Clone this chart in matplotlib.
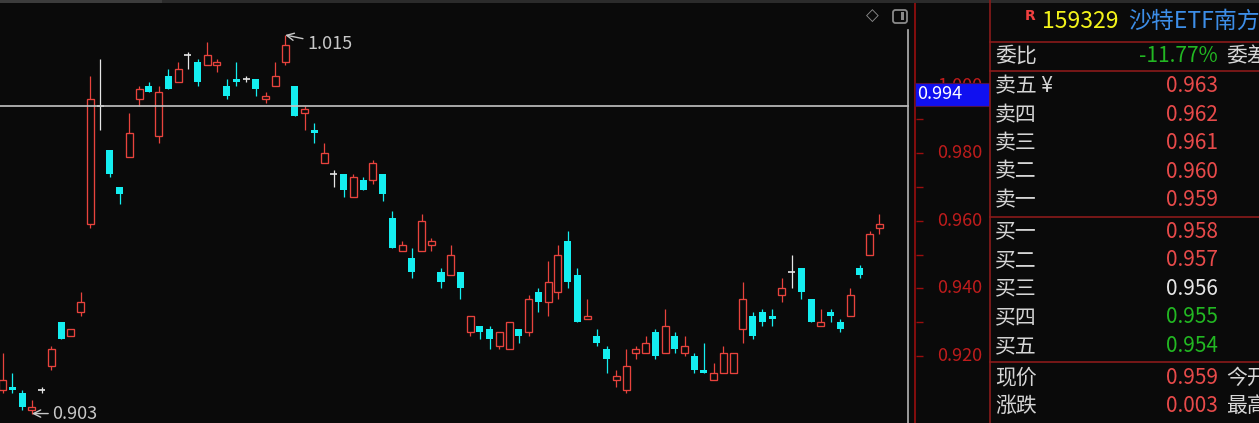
import matplotlib
matplotlib.use('Agg')
import matplotlib.pyplot as plt
from matplotlib.patches import Rectangle, FancyBboxPatch
import numpy as np

plt.rcParams['font.family'] = ['Noto Sans CJK SC', 'DejaVu Sans']

# K线数据 (开, 高, 低, 收)
opens = [0.910, 0.911, 0.909, 0.904, 0.910, 0.917, 0.930, 0.926, 0.933, 0.959,
         0.994, 0.981, 0.970, 0.979, 0.996, 1.000, 0.985, 1.003, 1.001, 1.009,
         1.007, 1.006, 1.006, 1.000, 1.002, 1.002, 1.002, 0.996, 1.000, 1.007,
         1.000, 0.992, 0.987, 0.977, 0.974, 0.974, 0.967, 0.972, 0.972, 0.974,
         0.961, 0.951, 0.949, 0.951, 0.953, 0.945, 0.944, 0.945, 0.927, 0.929,
         0.928, 0.923, 0.922, 0.928, 0.927, 0.939, 0.936, 0.939, 0.954, 0.944,
         0.931, 0.926, 0.922, 0.913, 0.910, 0.921, 0.921, 0.927, 0.921, 0.926,
         0.921, 0.920, 0.916, 0.913, 0.915, 0.915, 0.928, 0.932, 0.933, 0.932,
         0.938, 0.945, 0.946, 0.937, 0.929, 0.933, 0.930, 0.932, 0.946, 0.950,
         0.958]
highs = [0.921, 0.915, 0.910, 0.907, 0.911, 0.923, 0.930, 0.928, 0.939, 1.003,
         1.008, 0.981, 0.970, 0.992, 1.000, 1.001, 1.000, 1.005, 1.007, 1.010,
         1.008, 1.013, 1.008, 1.002, 1.007, 1.003, 1.002, 0.998, 1.007, 1.015,
         1.000, 0.994, 0.989, 0.983, 0.975, 0.974, 0.974, 0.973, 0.978, 0.974,
         0.963, 0.954, 0.952, 0.962, 0.955, 0.946, 0.953, 0.945, 0.932, 0.929,
         0.929, 0.927, 0.930, 0.928, 0.938, 0.940, 0.948, 0.953, 0.957, 0.946,
         0.937, 0.928, 0.923, 0.916, 0.922, 0.923, 0.926, 0.928, 0.934, 0.927,
         0.926, 0.921, 0.924, 0.918, 0.923, 0.921, 0.942, 0.933, 0.934, 0.934,
         0.943, 0.950, 0.946, 0.937, 0.934, 0.934, 0.931, 0.940, 0.947, 0.957,
         0.962]
lows = [0.909, 0.909, 0.904, 0.903, 0.909, 0.916, 0.925, 0.926, 0.932, 0.958,
        0.987, 0.973, 0.965, 0.979, 0.994, 0.998, 0.983, 0.999, 1.001, 1.005,
        1.000, 1.006, 1.004, 0.996, 1.000, 1.001, 0.997, 0.995, 1.000, 1.006,
        0.991, 0.987, 0.983, 0.977, 0.970, 0.967, 0.967, 0.969, 0.971, 0.966,
        0.952, 0.951, 0.943, 0.951, 0.951, 0.940, 0.944, 0.937, 0.926, 0.925,
        0.922, 0.922, 0.922, 0.924, 0.926, 0.933, 0.932, 0.937, 0.940, 0.930,
        0.931, 0.923, 0.915, 0.911, 0.909, 0.919, 0.921, 0.919, 0.921, 0.921,
        0.920, 0.915, 0.915, 0.913, 0.915, 0.915, 0.924, 0.925, 0.929, 0.929,
        0.936, 0.940, 0.937, 0.930, 0.929, 0.930, 0.927, 0.932, 0.943, 0.950,
        0.956]
closes = [0.913, 0.910, 0.905, 0.905, 0.910, 0.922, 0.925, 0.928, 0.936, 0.996,
          0.994, 0.974, 0.968, 0.986, 0.999, 0.998, 0.998, 0.999, 1.005, 1.009,
          1.001, 1.009, 1.007, 0.997, 1.001, 1.002, 0.999, 0.997, 1.003, 1.012,
          0.991, 0.993, 0.986, 0.980, 0.974, 0.969, 0.973, 0.969, 0.977, 0.968,
          0.952, 0.953, 0.945, 0.960, 0.954, 0.942, 0.950, 0.940, 0.932, 0.927,
          0.925, 0.927, 0.930, 0.926, 0.937, 0.936, 0.942, 0.950, 0.942, 0.930,
          0.932, 0.924, 0.919, 0.914, 0.917, 0.922, 0.924, 0.920, 0.929, 0.922,
          0.923, 0.916, 0.915, 0.915, 0.921, 0.921, 0.937, 0.926, 0.930, 0.931,
          0.940, 0.945, 0.939, 0.930, 0.930, 0.932, 0.928, 0.938, 0.944, 0.956,
          0.959]

cross_price = 0.994
tick_prices = [0.920, 0.930, 0.940, 0.950, 0.960, 0.970, 0.980, 0.990, 1.000]
label_prices = [0.920, 0.940, 0.960, 0.980, 1.000]

# 盘口
code = '159329'
name = '沙特ETF南方'
wb_ratio = '-11.77%'
sell_labels = ['卖五 ¥', '卖四', '卖三', '卖二', '卖一']
sell_prices = [0.963, 0.962, 0.961, 0.960, 0.959]
buy_labels = ['买一', '买二', '买三', '买四', '买五']
buy_prices = [0.958, 0.957, 0.956, 0.955, 0.954]
last_price = 0.959
change = 0.003

BG = '#0a0a0a'
RED = '#e8433d'
CYAN = '#14eef0'
WHITE = '#e6e6e6'
GREY_TXT = '#c8c8c8'
AXIS_RED = '#9a0e0e'
TICK_RED = '#bf1c1c'
LINE_RED = '#8a1a1a'
VAL_RED = '#e84a4a'
VAL_GREEN = '#22b822'
LBL = '#d6d6d6'

W, H = 1259, 423
PLOT_RIGHT, SCALE_RIGHT = 909, 990
PX_PER_UNIT = 3380.0
REF_PRICE, REF_Y = 0.980, 153.3
X0, STEP = 2.7, 9.74
ytop = REF_PRICE + REF_Y / PX_PER_UNIT
ybot = REF_PRICE - (H - REF_Y) / PX_PER_UNIT

fig = plt.figure(figsize=(W / 100, H / 100), dpi=100, facecolor=BG)

# 主图
ax = fig.add_axes([0, 0, PLOT_RIGHT / W, 1])
ax.set_xlim(-X0 / STEP, (PLOT_RIGHT - X0) / STEP)
ax.set_ylim(ybot, ytop)
ax.axis('off')

o, h, l, c = map(np.array, (opens, highs, lows, closes))
idx = np.arange(len(o))
up, dn, flat = c > o, c < o, c == o
wick_col = np.where(up, RED, np.where(dn, CYAN, WHITE))
ax.vlines(idx, l, h, colors=wick_col, lw=0.9, zorder=2)
ax.bar(idx[up], (c - o)[up], bottom=o[up], width=0.72, facecolor=BG,
       edgecolor=RED, lw=0.95, zorder=3)
ax.bar(idx[dn], (o - c)[dn], bottom=c[dn], width=0.72, color=CYAN, lw=0, zorder=3)
ax.hlines(o[flat], idx[flat] - 0.36, idx[flat] + 0.36, colors=WHITE, lw=1.2, zorder=3)

ax.axhline(cross_price, color='#c4c4c4', lw=1.2, zorder=4)

hi_i, lo_i = int(np.argmax(h)), int(np.argmin(l))
arrow = dict(arrowstyle='->', color=GREY_TXT, lw=1.0, shrinkA=1, shrinkB=0)
ax.annotate(f'{h[hi_i]:.3f}', xy=(hi_i, h[hi_i]), xytext=(hi_i + 2.25, h[hi_i] - 0.0027),
            color=GREY_TXT, fontsize=13, ha='left', va='center', arrowprops=arrow, zorder=5)
ax.annotate(f'{l[lo_i]:.3f}', xy=(lo_i, l[lo_i]), xytext=(lo_i + 2.1, l[lo_i]),
            color=GREY_TXT, fontsize=13, ha='left', va='center', arrowprops=arrow, zorder=5)

# 价格刻度
axs = fig.add_axes([PLOT_RIGHT / W, 0, (SCALE_RIGHT - PLOT_RIGHT) / W, 1])
axs.set_xlim(0, SCALE_RIGHT - PLOT_RIGHT)
axs.set_ylim(ybot, ytop)
axs.axis('off')
axs.axvline(6, color=AXIS_RED, lw=1.2)
axs.hlines(tick_prices, 6.5, 13.5, colors=AXIS_RED, lw=1.0)
for p in label_prices:
    axs.text(73.5, p, f'{p:.3f}', ha='right', va='center', color=TICK_RED, fontsize=13, zorder=3)
box_h = 23 / PX_PER_UNIT
axs.add_patch(Rectangle((6, cross_price), 75, box_h, facecolor='#1010f0',
                        edgecolor='#50124a', lw=0.8, zorder=5))
axs.text(8, cross_price + box_h / 2, f'{cross_price:.3f}', color='white',
         fontsize=13, ha='left', va='center', zorder=6)

# 装饰 + 盘口 (像素坐标)
deco = fig.add_axes([0, 0, 1, 1])
deco.set_xlim(0, W)
deco.set_ylim(H, 0)
deco.axis('off')
deco.add_patch(Rectangle((0, 0), W, 3, color='#2b2b2b', lw=0))
deco.add_patch(Rectangle((0, 0), 162, 3, color='#3c3c3c', lw=0))
deco.plot([908, 908], [30, H], color='#b4b4b4', lw=1.2)
deco.text(872, 16, '◇', color='#8a8a8a', fontsize=12, ha='center', va='center',
          family=['DejaVu Sans'])
deco.add_patch(FancyBboxPatch((893, 10), 14, 13, boxstyle='round,pad=0,rounding_size=2.5',
                              fc='none', ec='#8a8a8a', lw=1.3))
deco.add_patch(Rectangle((901, 12.5), 3.5, 8, color='#8a8a8a', lw=0))

px = SCALE_RIGHT
deco.plot([px, px], [0, H], color=LINE_RED, lw=1.2)
for yy in (42, 71, 217, 362):
    deco.plot([px, W], [yy, yy], color=LINE_RED, lw=1.2)

deco.text(px + 40, 16, 'R', color='#f04040', fontsize=10, fontweight='bold',
          ha='center', va='center', family=['DejaVu Sans'])
deco.text(px + 52, 21, code, color='#f2f21a', fontsize=16.5, ha='left', va='center')
deco.text(px + 138, 21, name, color='#3d8ee8', fontsize=16.5, ha='left', va='center')

prev_close = round(last_price - change, 3)


def price_color(p):
    if p > prev_close:
        return VAL_RED
    if p < prev_close:
        return VAL_GREEN
    return WHITE


VAL_X = px + 228
LBL_X = px + 5
deco.text(LBL_X, 56, '委比', color=LBL, fontsize=15, ha='left', va='center')
deco.text(VAL_X, 56, wb_ratio, color=VAL_GREEN, fontsize=15, ha='right', va='center')
deco.text(px + 236, 56, '委差', color=LBL, fontsize=15, ha='left', va='center')

for k, (lab, p) in enumerate(zip(sell_labels, sell_prices)):
    yy = 86.5 + 28.4 * k
    deco.text(LBL_X, yy, lab, color=LBL, fontsize=15, ha='left', va='center')
    deco.text(VAL_X, yy, f'{p:.3f}', color=price_color(p), fontsize=15, ha='right', va='center')
for k, (lab, p) in enumerate(zip(buy_labels, buy_prices)):
    yy = 231.5 + 28.6 * k
    deco.text(LBL_X, yy, lab, color=LBL, fontsize=15, ha='left', va='center')
    deco.text(VAL_X, yy, f'{p:.3f}', color=price_color(p), fontsize=15, ha='right', va='center')

deco.text(LBL_X, 377.5, '现价', color=LBL, fontsize=15, ha='left', va='center')
deco.text(VAL_X, 377.5, f'{last_price:.3f}', color=price_color(last_price), fontsize=15,
          ha='right', va='center')
deco.text(px + 236, 377.5, '今开', color=LBL, fontsize=15, ha='left', va='center')
deco.text(LBL_X, 406, '涨跌', color=LBL, fontsize=15, ha='left', va='center')
deco.text(VAL_X, 406, f'{change:.3f}', color=VAL_RED, fontsize=15, ha='right', va='center')
deco.text(px + 236, 406, '最高', color=LBL, fontsize=15, ha='left', va='center')

fig.savefig('out.png', dpi=100, facecolor=BG)
